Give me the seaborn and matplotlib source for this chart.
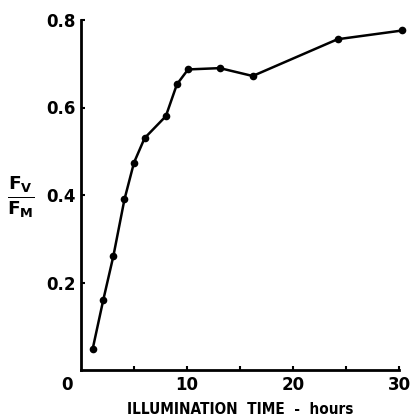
import matplotlib
matplotlib.use("Agg")
import matplotlib.pyplot as plt
import seaborn as sns
import pandas as pd

# temps d'illumination (heures) et rapport Fv/Fm
hours = [1.1, 2.1, 3.05, 4.1, 5.0, 6.0, 8.0, 9.05, 10.1, 13.1, 16.2, 24.2, 30.3]
fv_fm = [0.048, 0.16, 0.26, 0.39, 0.474, 0.53, 0.58, 0.653, 0.687, 0.69, 0.672, 0.756, 0.776]
y_ticks = [0.2, 0.4, 0.6, 0.8]

df = pd.DataFrame({"hours": hours, "fv_fm": fv_fm})

sns.set_style("ticks")
plt.rcParams["font.family"] = ["DejaVu Sans"]
plt.rcParams["text.color"] = "black"
plt.rcParams["axes.labelcolor"] = "black"
plt.rcParams["mathtext.fontset"] = "custom"
plt.rcParams["mathtext.rm"] = "DejaVu Sans:bold"
plt.rcParams["mathtext.it"] = "DejaVu Sans:bold"

fig = plt.figure(figsize=(4.11, 4.18), dpi=100)
ax = fig.add_axes([81 / 411, 1 - 370 / 418, (399 - 81) / 411, (370 - 20) / 418])

sns.lineplot(data=df, x="hours", y="fv_fm", ax=ax, color="black", linewidth=1.8,
             marker="o", markersize=5.5, markeredgewidth=0, clip_on=False)

ax.set_xlim(0, 30)
ax.set_ylim(0, 0.8)
ax.set_xticks([5, 10, 15, 20, 25, 30], labels=["", "10", "", "20", "", "30"])
ax.set_yticks(y_ticks, labels=[str(v) for v in y_ticks])
ax.tick_params(direction="in", length=3, width=1.5, labelsize=12, pad=4, colors="black")
for lab in ax.get_xticklabels() + ax.get_yticklabels():
    lab.set_fontweight("bold")
ax.text(-0.045, -0.018, "0", transform=ax.transAxes, ha="center", va="top",
        fontsize=12, fontweight="bold")

for s in ["top", "right"]:
    ax.spines[s].set_visible(False)
for s in ["left", "bottom"]:
    ax.spines[s].set_linewidth(2)
    ax.spines[s].set_color("black")

ax.set_xlabel("ILLUMINATION  TIME  -  hours", fontsize=11, fontweight="bold",
              fontstretch="condensed", labelpad=6)
ax.set_ylabel("")
fig.text(21 / 411, 1 - 197 / 418, r"$\frac{F_V}{F_M}$", ha="center", va="center", fontsize=19)

fig.savefig("out.png", dpi=100)
